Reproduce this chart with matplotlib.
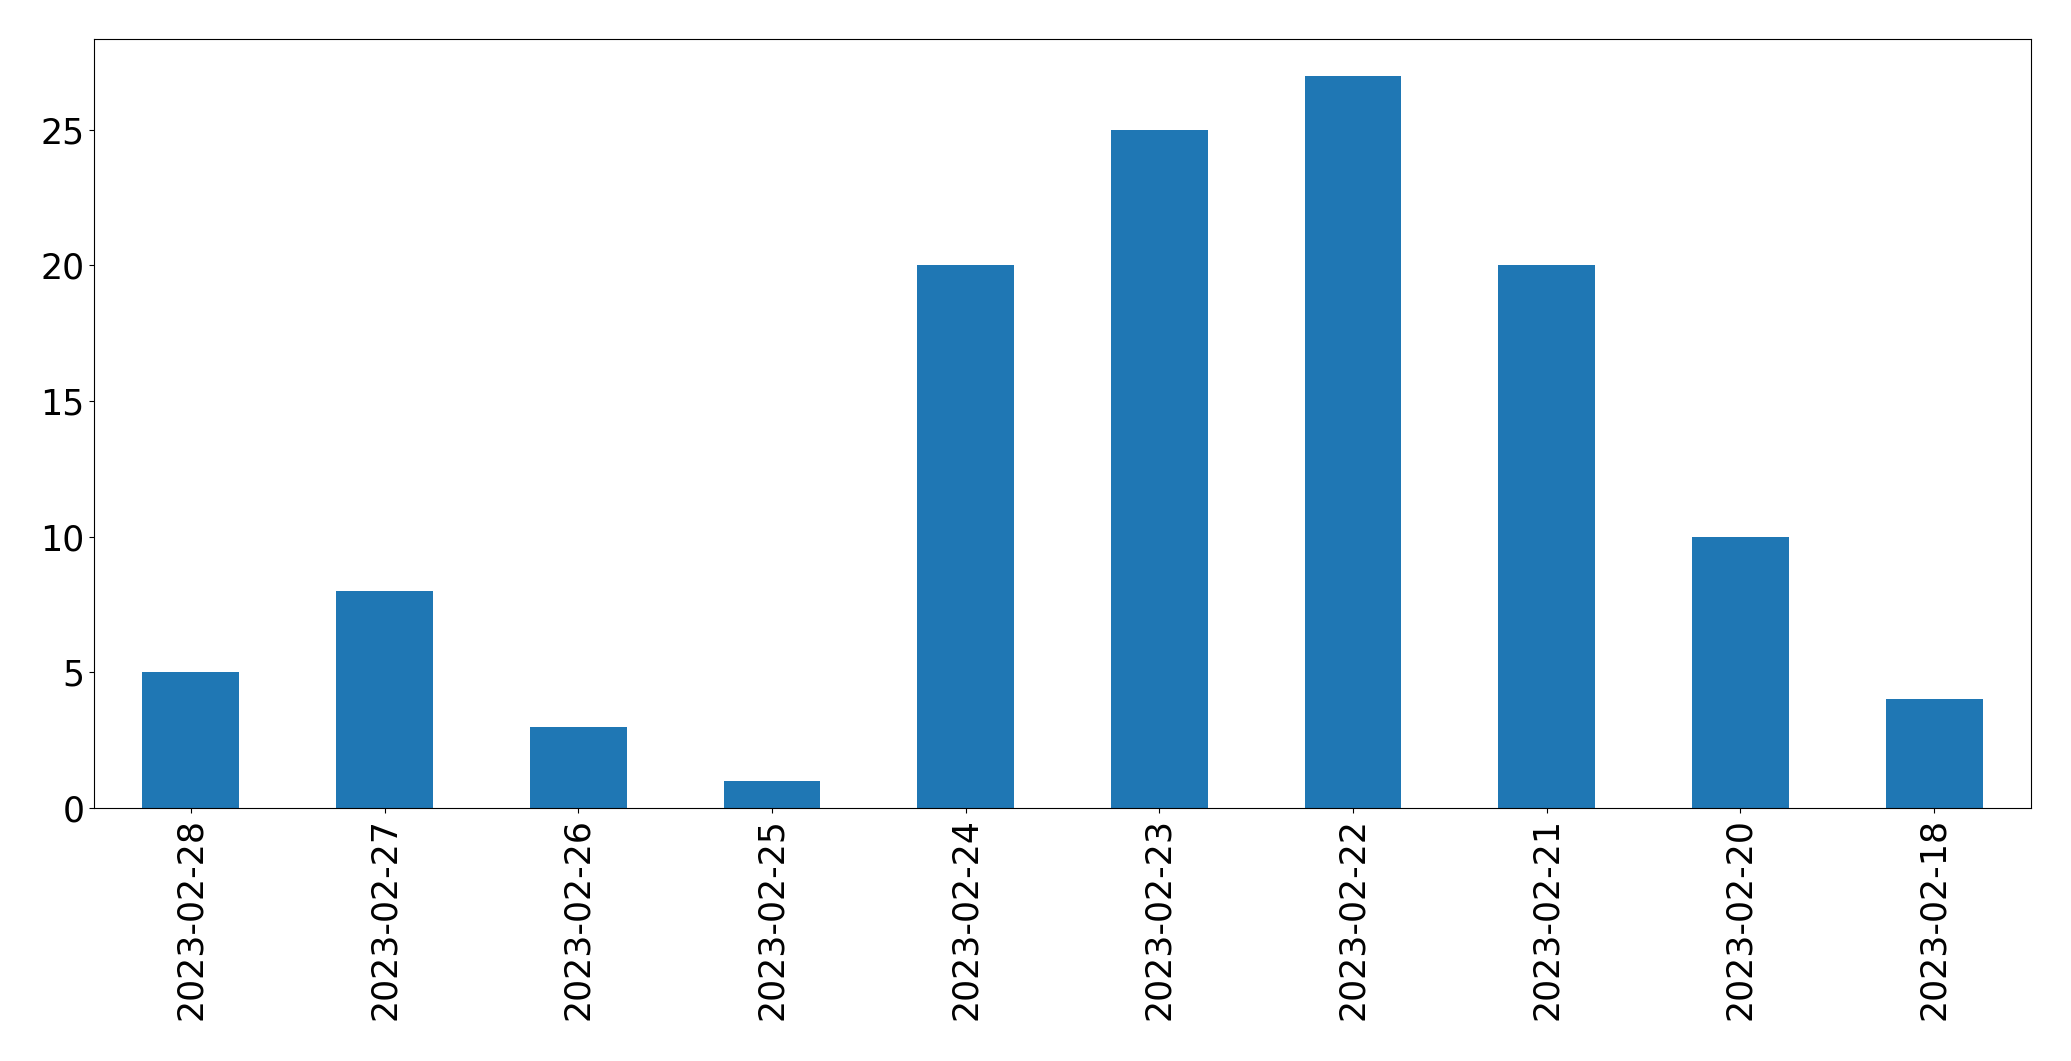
import matplotlib
matplotlib.use("Agg")
import matplotlib.pyplot as plt
import pandas as pd

# Counts per day
dates = ['2023-02-28', '2023-02-27', '2023-02-26', '2023-02-25', '2023-02-24',
         '2023-02-23', '2023-02-22', '2023-02-21', '2023-02-20', '2023-02-18']
counts = [5, 8, 3, 1, 20, 25, 27, 20, 10, 4]

s = pd.Series(counts, index=dates)

fig, ax = plt.subplots(figsize=(20.71, 10.61), dpi=100)
s.plot(kind='bar', ax=ax, color='#1f77b4', fontsize=25)

fig.subplots_adjust(left=94/2071, right=2031/2071, top=1-39/1061, bottom=1-808/1061)
fig.savefig('out.png', dpi=100)
